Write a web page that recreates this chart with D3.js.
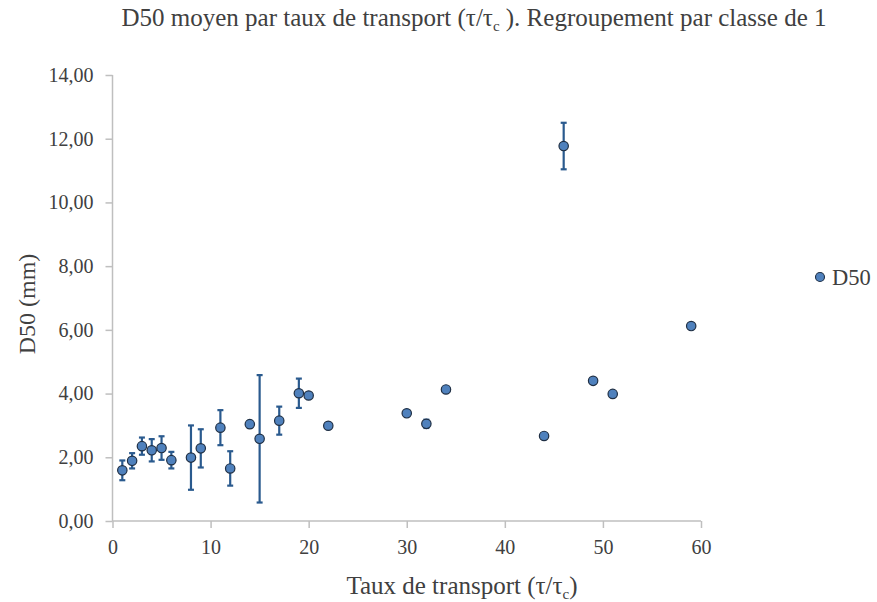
<!DOCTYPE html>
<html><head><meta charset="utf-8">
<script src="https://cdn.jsdelivr.net/npm/d3@7"></script>
<style>body{margin:0;background:#fff}svg{display:block}text{font-family:"Liberation Serif","DejaVu Serif",serif;fill:#404040}</style>
</head><body><svg id="c" width="877" height="602"></svg>
<script>
const xValues = [1,2,3,4,5,6,8,9,11,12,14,15,17,19,20,22,30,32,34,44,46,49,51,59];
const d50Values = [1.59,1.89,2.35,2.22,2.29,1.91,1.99,2.28,2.93,1.65,3.04,2.58,3.15,4.01,3.94,2.99,3.38,3.05,4.13,2.67,11.77,4.40,3.99,6.12];
const errValues = [0.31,0.24,0.27,0.35,0.37,0.26,1.01,0.60,0.55,0.54,0.10,2.00,0.44,0.46,0,0,0,0.13,0,0,0.73,0,0,0];
const xTicks = [0,10,20,30,40,50,60];
const yTicks = [0,2,4,6,8,10,12,14];

const svg = d3.select("#c");
const x = d3.scaleLinear().domain([0,60]).range([112.5,701]);
const y = d3.scaleLinear().domain([0,14]).range([521,75]);

const fmt = d => d3.format(".2f")(d).replace(".", ",");

const gx = svg.append("g").attr("transform","translate(0,521)")
  .call(d3.axisBottom(x).tickValues(xTicks).tickSize(7).tickPadding(12));
const gy = svg.append("g").attr("transform","translate(112.5,0)")
  .call(d3.axisLeft(y).tickValues(yTicks).tickFormat(fmt).tickSize(7).tickPadding(12));
[gx,gy].forEach(g=>{
  g.attr("font-family","Liberation Serif, serif").attr("font-size",20);
  g.selectAll("path,line").attr("stroke","#bfbfbf").attr("stroke-width",1.5);
  g.selectAll("text").attr("fill","#404040").style("font-family","'Liberation Serif', serif").style("font-size","20px");
});
gy.select(".domain").attr("d","M0,75V521");
gx.select(".domain").attr("d","M112.5,0H701");

const data = xValues.map((v,i)=>({x:v,y:d50Values[i],e:errValues[i]}));
const eb = svg.append("g").attr("stroke","#2a5a8e").attr("stroke-width",2.2);
data.filter(d=>d.e>0).forEach(d=>{
  const cx = x(d.x);
  eb.append("line").attr("x1",cx).attr("x2",cx).attr("y1",y(d.y-d.e)).attr("y2",y(d.y+d.e));
  eb.append("line").attr("x1",cx-3).attr("x2",cx+3).attr("y1",y(d.y-d.e)).attr("y2",y(d.y-d.e));
  eb.append("line").attr("x1",cx-3).attr("x2",cx+3).attr("y1",y(d.y+d.e)).attr("y2",y(d.y+d.e));
});
svg.append("g").selectAll("circle").data(data).join("circle")
  .attr("cx",d=>x(d.x)).attr("cy",d=>y(d.y)).attr("r",4.7)
  .attr("fill","#4f81bd").attr("stroke","#1f2f44").attr("stroke-width",1.2);

// title
const t = svg.append("text").attr("x",474).attr("y",26).attr("text-anchor","middle")
  .style("font-size","25px").attr("fill","#404040");
t.append("tspan").text("D50 moyen par taux de transport (τ/τ");
t.append("tspan").text("c").attr("dy",5).style("font-size","15px");
t.append("tspan").text(" ). Regroupement par classe de 1").attr("dy",-5);

// x label
const xl = svg.append("text").attr("x",462).attr("y",594).attr("text-anchor","middle").style("font-size","25px");
xl.append("tspan").text("Taux de transport (τ/τ");
xl.append("tspan").text("c").attr("dy",5).style("font-size","15px");
xl.append("tspan").text(")").attr("dy",-5);

// y label
svg.append("text").attr("transform","translate(35,304) rotate(-90)").attr("text-anchor","middle")
  .style("font-size","24px").text("D50 (mm)");

// legend
svg.append("circle").attr("cx",820).attr("cy",277).attr("r",4.5).attr("fill","#4f81bd").attr("stroke","#1f2f44").attr("stroke-width",1.1);
svg.append("text").attr("x",832).attr("y",284.5).style("font-size","22.5px").text("D50");
</script></body></html>
